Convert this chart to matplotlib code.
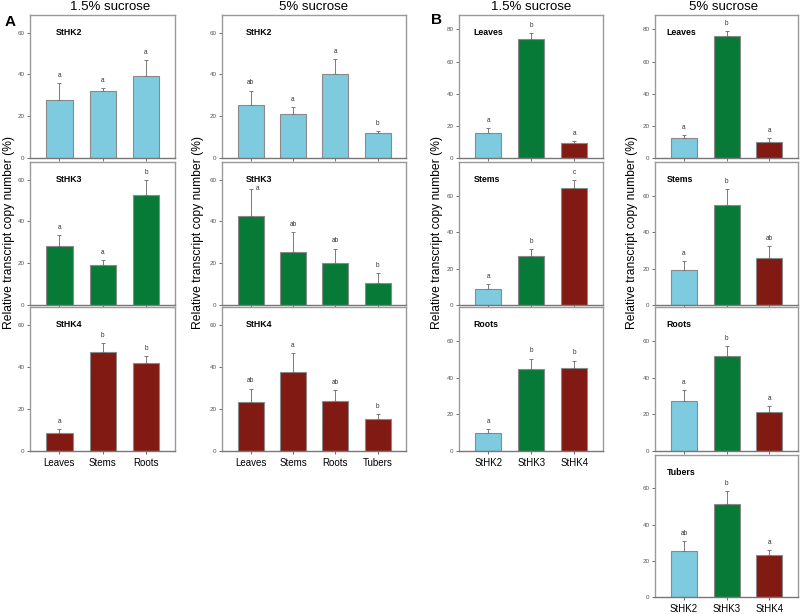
import numpy as np
import matplotlib.pyplot as plt

plt.rcParams['font.family'] = ['Liberation Sans', 'DejaVu Sans']

# categories
organs_15 = ['Leaves', 'Stems', 'Roots']
organs_5 = ['Leaves', 'Stems', 'Roots', 'Tubers']
genes = ['StHK2', 'StHK3', 'StHK4']

# panel A, 1.5% sucrose
hk2_15 = [28.0, 32.0, 39.5]
hk2_15_err = [8.0, 1.5, 7.5]
hk2_15_sig = ['a', 'a', 'a']
hk3_15 = [28.5, 19.4, 52.8]
hk3_15_err = [5.0, 2.0, 7.0]
hk3_15_sig = ['a', 'a', 'b']
hk4_15 = [8.5, 47.0, 42.0]
hk4_15_err = [2.0, 4.3, 3.2]
hk4_15_sig = ['a', 'b', 'b']

# panel A, 5% sucrose
hk2_5 = [25.5, 21.3, 40.0, 12.2]
hk2_5_err = [6.8, 3.2, 7.2, 0.5]
hk2_5_sig = ['ab', 'a', 'a', 'b']
hk3_5 = [42.6, 25.6, 20.3, 10.7]
hk3_5_err = [13.0, 9.3, 6.7, 4.5]
hk3_5_sig = ['a', 'ab', 'ab', 'b']
hk4_5 = [23.2, 37.6, 23.8, 15.2]
hk4_5_err = [6.5, 9.0, 5.0, 2.2]
hk4_5_sig = ['ab', 'a', 'ab', 'b']

# panel B, 1.5% sucrose
leaves_15 = [15.4, 74.2, 9.3]
leaves_15_err = [3.3, 3.8, 1.2]
leaves_15_sig = ['a', 'b', 'a']
stems_15 = [8.6, 26.9, 64.3]
stems_15_err = [2.8, 3.7, 4.2]
stems_15_sig = ['a', 'b', 'c']
roots_15 = [9.9, 44.9, 45.2]
roots_15_err = [2.0, 5.5, 4.1]
roots_15_sig = ['a', 'b', 'b']

# panel B, 5% sucrose
leaves_5 = [12.7, 76.2, 10.2]
leaves_5_err = [1.5, 2.7, 2.4]
leaves_5_sig = ['a', 'b', 'a']
stems_5 = [19.0, 55.1, 25.8]
stems_5_err = [5.0, 8.5, 6.6]
stems_5_sig = ['a', 'b', 'ab']
roots_5 = [27.1, 52.0, 21.0]
roots_5_err = [6.2, 5.0, 3.3]
roots_5_sig = ['a', 'b', 'a']
tubers_5 = [25.3, 51.5, 23.2]
tubers_5_err = [5.5, 7.1, 2.6]
tubers_5_sig = ['ab', 'b', 'a']

BLUE = '#7ecbe0'
GREEN = '#077a38'
RED = '#811a12'
gene_colors = [BLUE, GREEN, RED]

FRAME = '#9a9a9a'
EDGE = '#8a8a8a'


def draw_panel(ax, labels, values, errs, sig, colors, ylim, yticks,
               name, name_x, show_xlabels, side_letter=None):
    x = np.arange(len(values))
    ax.bar(x, values, width=0.61, color=colors, edgecolor=EDGE,
           linewidth=0.8, zorder=2)
    ax.errorbar(x, values, yerr=[np.zeros(len(errs)), errs], fmt='none',
                ecolor='#7a7a7a', elinewidth=0.7, capsize=1.5,
                capthick=0.7, zorder=3)
    for i, (v, e, s) in enumerate(zip(values, errs, sig)):
        if side_letter == i:
            # letter sits beside the error bar cap here
            ax.annotate(s, (x[i], v + e), xytext=(5, 0),
                        textcoords='offset points', ha='center',
                        va='center', fontsize=4.7, color='#333333')
        else:
            ax.annotate(s, (x[i], v + e), xytext=(0, 5.5),
                        textcoords='offset points', ha='center',
                        va='center', fontsize=4.7, color='#333333')
    ax.set_xlim(-0.68, len(values) - 1 + 0.67)
    ax.set_ylim(*ylim)
    ax.set_yticks(yticks)
    ax.set_xticks(x)
    if show_xlabels:
        ax.set_xticklabels(labels, fontsize=7)
    else:
        ax.set_xticklabels([])
    ax.tick_params(axis='y', labelsize=4.5, length=2, width=0.6,
                   colors='#555555', pad=2)
    ax.tick_params(axis='x', length=2, width=0.6, color='#555555',
                   labelcolor='black', pad=3)
    for sp in ax.spines.values():
        sp.set_color(FRAME)
        sp.set_linewidth(1.0)
    ax.spines['bottom'].set_color('#777777')
    ax.text(name_x, 0.88, name, transform=ax.transAxes, fontsize=6.3,
            fontweight='bold', ha='left', va='center')


W, H = 800, 614
fig = plt.figure(figsize=(W / 100, H / 100), dpi=100)


def add_axes(x0, x1, ytop, ybot):
    return fig.add_axes([x0 / W, 1 - ybot / H, (x1 - x0) / W, (ybot - ytop) / H])


rows = [(15, 158), (162, 305), (307, 451), (455, 597)]
ya = (0, 68.5)
ticks_a = [0, 20, 40, 60]

# panel A left: 1.5% sucrose
col = (30, 175)
for r, (vals, errs, sig, c, nm) in enumerate([
        (hk2_15, hk2_15_err, hk2_15_sig, BLUE, 'StHK2'),
        (hk3_15, hk3_15_err, hk3_15_sig, GREEN, 'StHK3'),
        (hk4_15, hk4_15_err, hk4_15_sig, RED, 'StHK4')]):
    ax = add_axes(col[0], col[1], *rows[r])
    draw_panel(ax, organs_15, vals, errs, sig, c, ya, ticks_a, nm, 0.18,
               r == 2)

# panel A right: 5% sucrose
col = (222, 406)
for r, (vals, errs, sig, c, nm) in enumerate([
        (hk2_5, hk2_5_err, hk2_5_sig, BLUE, 'StHK2'),
        (hk3_5, hk3_5_err, hk3_5_sig, GREEN, 'StHK3'),
        (hk4_5, hk4_5_err, hk4_5_sig, RED, 'StHK4')]):
    ax = add_axes(col[0], col[1], *rows[r])
    draw_panel(ax, organs_5, vals, errs, sig, c, ya, ticks_a, nm, 0.13,
               r == 2, side_letter=0 if r == 1 else None)

# panel B left: 1.5% sucrose
col = (459, 603)
for r, (vals, errs, sig, nm) in enumerate([
        (leaves_15, leaves_15_err, leaves_15_sig, 'Leaves'),
        (stems_15, stems_15_err, stems_15_sig, 'Stems'),
        (roots_15, roots_15_err, roots_15_sig, 'Roots')]):
    ax = add_axes(col[0], col[1], *rows[r])
    yl = (0, 89) if r == 0 else (0, 78.5)
    yt = [0, 20, 40, 60, 80] if r == 0 else [0, 20, 40, 60]
    draw_panel(ax, genes, vals, errs, sig, gene_colors, yl, yt, nm, 0.1,
               r == 2)

# panel B right: 5% sucrose
col = (655, 798)
for r, (vals, errs, sig, nm) in enumerate([
        (leaves_5, leaves_5_err, leaves_5_sig, 'Leaves'),
        (stems_5, stems_5_err, stems_5_sig, 'Stems'),
        (roots_5, roots_5_err, roots_5_sig, 'Roots'),
        (tubers_5, tubers_5_err, tubers_5_sig, 'Tubers')]):
    ax = add_axes(col[0], col[1], *rows[r])
    yl = (0, 89) if r == 0 else (0, 78.5)
    yt = [0, 20, 40, 60, 80] if r == 0 else [0, 20, 40, 60]
    draw_panel(ax, genes, vals, errs, sig, gene_colors, yl, yt, nm, 0.08,
               r == 3)

# titles, panel letters, y labels
for xc, t in [(110, '1.5% sucrose'), (314, '5% sucrose'),
              (531, '1.5% sucrose'), (724, '5% sucrose')]:
    fig.text(xc / W, 1 - 7 / H, t, ha='center', va='center', fontsize=9.5)

fig.text(10 / W, 1 - 22 / H, 'A', ha='center', va='center', fontsize=11,
         fontweight='bold')
fig.text(437 / W, 1 - 20 / H, 'B', ha='center', va='center', fontsize=11,
         fontweight='bold')

for xc in [9, 198, 437, 632]:
    fig.text(xc / W, 1 - 233 / H, 'Relative transcript copy number (%)',
             rotation=90, ha='center', va='center', fontsize=8.7)

fig.savefig('out.png', dpi=100, facecolor='white')
